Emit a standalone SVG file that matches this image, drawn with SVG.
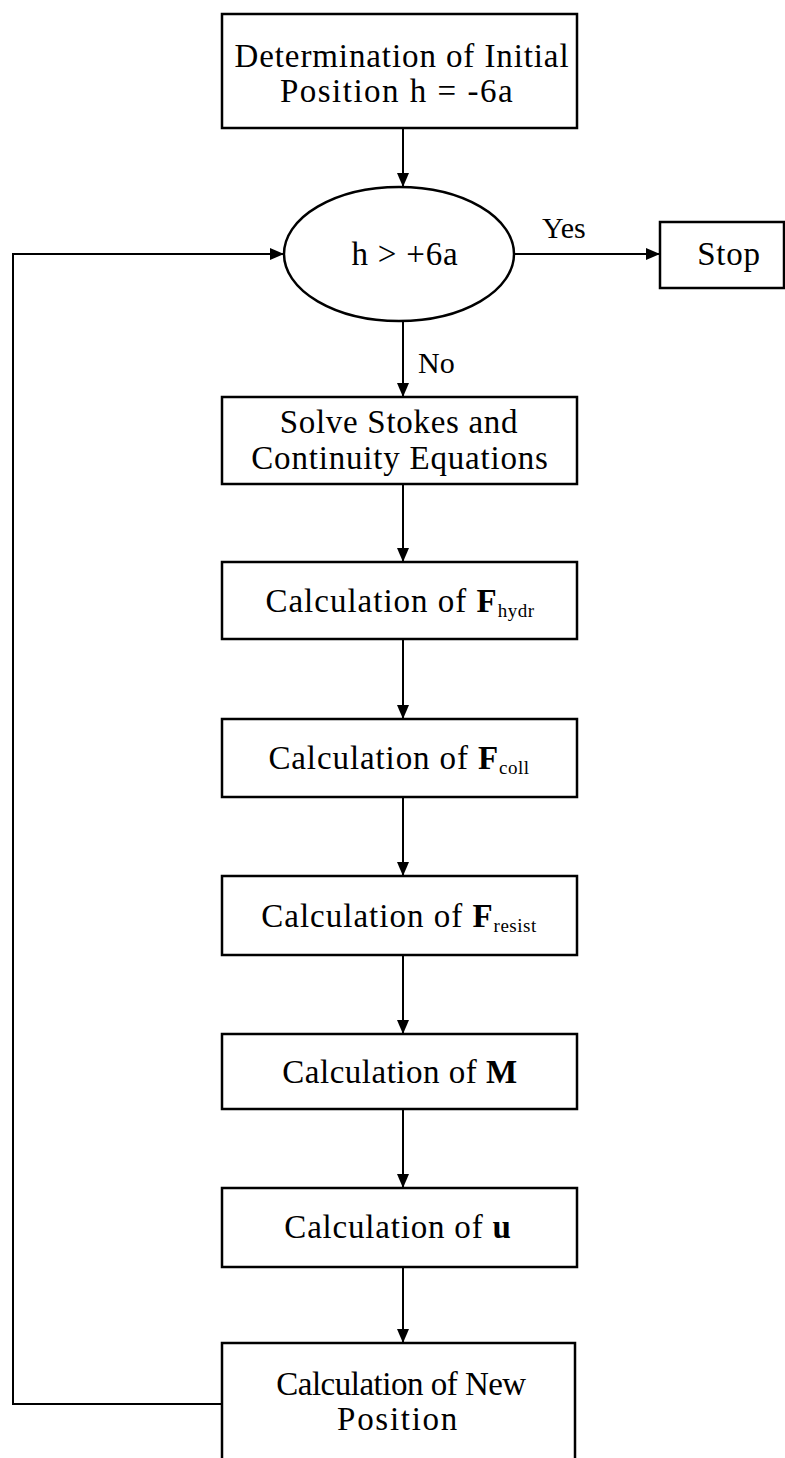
<svg xmlns="http://www.w3.org/2000/svg" width="785" height="1458" viewBox="0 0 785 1458">
<style>
.box{fill:#fff;stroke:#000;stroke-width:2.5}
.ln{fill:none;stroke:#000;stroke-width:2}
.t{font-family:"Liberation Serif","Times New Roman",serif;font-size:33px;fill:#000;text-anchor:middle;letter-spacing:0.9px}
.l{font-family:"Liberation Serif","Times New Roman",serif;font-size:30px;fill:#000}
.b{font-weight:bold}
.s{font-size:19px;letter-spacing:0.5px}
</style>
<defs>
<marker id="ah" markerUnits="userSpaceOnUse" markerWidth="14" markerHeight="12" refX="14" refY="6" orient="auto">
<path d="M0,0 L14,6 L0,12 z" fill="#000"/>
</marker>
</defs>
<rect width="785" height="1458" fill="#fff"/>
<g id="connectors">
<line class="ln" x1="403" y1="128" x2="403" y2="187" marker-end="url(#ah)"/>
<line class="ln" x1="514" y1="254" x2="660" y2="254" marker-end="url(#ah)"/>
<line class="ln" x1="403" y1="321" x2="403" y2="397" marker-end="url(#ah)"/>
<line class="ln" x1="403" y1="484" x2="403" y2="562" marker-end="url(#ah)"/>
<line class="ln" x1="403" y1="639" x2="403" y2="719" marker-end="url(#ah)"/>
<line class="ln" x1="403" y1="797" x2="403" y2="876" marker-end="url(#ah)"/>
<line class="ln" x1="403" y1="955" x2="403" y2="1034" marker-end="url(#ah)"/>
<line class="ln" x1="403" y1="1109" x2="403" y2="1188" marker-end="url(#ah)"/>
<line class="ln" x1="403" y1="1267" x2="403" y2="1343" marker-end="url(#ah)"/>
<path class="ln" d="M222,1404 H13 V254 H284" marker-end="url(#ah)"/>
<text class="l" x="542" y="238">Yes</text>
<text class="l" x="418" y="373">No</text>
</g>
<g id="init">
<rect class="box" x="222" y="14" width="355" height="114"/>
<text class="t" x="402" y="67">Determination of Initial</text>
<text class="t" x="397" y="102" style="letter-spacing:1.5px">Position h = -6a</text>
</g>
<g id="decision">
<ellipse class="box" cx="399" cy="254" rx="115" ry="67"/>
<text class="t" x="405" y="265" style="letter-spacing:0.8px">h &gt; +6a</text>
</g>
<g id="stop">
<rect class="box" x="660" y="222" width="124" height="66"/>
<text class="t" x="729" y="265" style="letter-spacing:0.8px">Stop</text>
</g>
<g id="solve">
<rect class="box" x="222" y="397" width="355" height="87"/>
<text class="t" x="399" y="433" style="letter-spacing:0.7px">Solve Stokes and</text>
<text class="t" x="400" y="469" style="letter-spacing:0.8px">Continuity Equations</text>
</g>
<g id="fhydr">
<rect class="box" x="222" y="562" width="355" height="77"/>
<text class="t" x="400" y="612" style="letter-spacing:1px">Calculation of <tspan class="b">F</tspan><tspan class="s" dy="5">hydr</tspan></text>
</g>
<g id="fcoll">
<rect class="box" x="222" y="719" width="355" height="78"/>
<text class="t" x="399" y="769">Calculation of <tspan class="b">F</tspan><tspan class="s" dy="5">coll</tspan></text>
</g>
<g id="fresist">
<rect class="box" x="222" y="876" width="355" height="79"/>
<text class="t" x="399" y="927" style="letter-spacing:1px">Calculation of <tspan class="b">F</tspan><tspan class="s" dy="5">resist</tspan></text>
</g>
<g id="m">
<rect class="box" x="222" y="1034" width="355" height="75"/>
<text class="t" x="400" y="1083" style="letter-spacing:0.5px">Calculation of <tspan class="b">M</tspan></text>
</g>
<g id="u">
<rect class="box" x="222" y="1188" width="355" height="79"/>
<text class="t" x="398" y="1238" style="letter-spacing:0.8px">Calculation of <tspan class="b">u</tspan></text>
</g>
<g id="newpos">
<rect class="box" x="222" y="1343" width="353" height="130"/>
<text class="t" x="401" y="1395" style="letter-spacing:-0.5px">Calculation of New</text>
<text class="t" x="398" y="1430" style="letter-spacing:1.7px">Position</text>
</g>
</svg>
